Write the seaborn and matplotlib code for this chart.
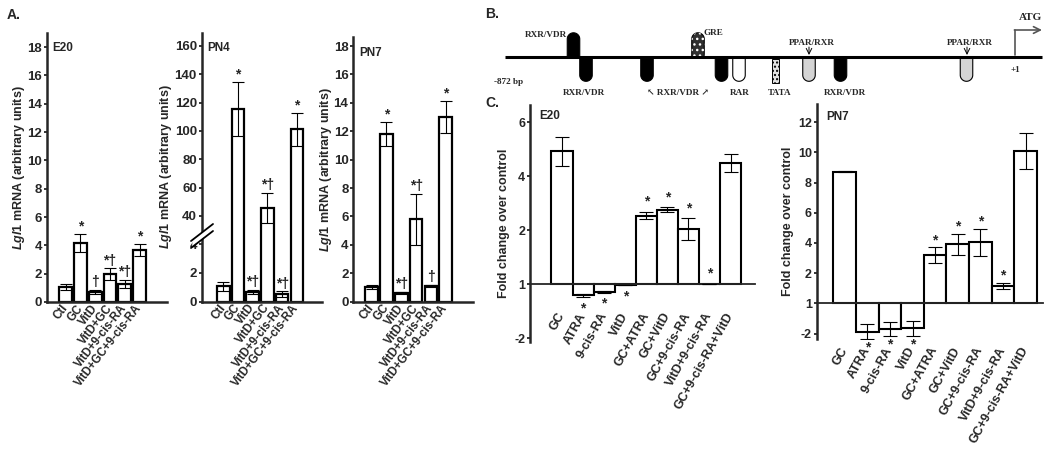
import numpy as np
import matplotlib
matplotlib.use("Agg")
import matplotlib.pyplot as plt
import seaborn as sns
from matplotlib.patches import Polygon, Rectangle
from matplotlib.lines import Line2D

# ---- panel A data: Lgl1 mRNA (arbitrary units)
a_labels = ["Ctl", "GC", "VitD", "VitD+GC", "VitD+9-cis-RA", "VitD+GC+9-cis-RA"]

e20_vals = [1.05, 4.15, 0.73, 1.95, 1.28, 3.68]
e20_err = [0.22, 0.65, 0.15, 0.43, 0.3, 0.4]
e20_marks = ["", "*", "\u2020", "*\u2020", "*\u2020", "*"]

pn4_vals = [1.07, 115.4, 0.67, 45.8, 0.52, 101.0]
pn4_err = [0.3, 19.0, 0.16, 10.7, 0.2, 11.5]
pn4_marks = ["", "*", "*\u2020", "*\u2020", "*\u2020", "*"]

pn7_vals = [1.05, 11.8, 0.6, 5.8, 1.1, 13.0]
pn7_err = [0.15, 0.85, 0.08, 1.8, 0.1, 1.15]
pn7_marks = ["", "*", "*\u2020", "*\u2020", "\u2020", "*"]

# ---- panel C data: fold change over control (0 on the axis is labelled "1")
c_labels = ["GC", "ATRA", "9-cis-RA", "VitD", "GC+ATRA", "GC+VitD",
            "GC+9-cis-RA", "VitD+9-cis-RA", "GC+9-cis-RA+VitD"]

ce20_vals = [4.92, -0.41, -0.27, -0.03, 2.55, 2.76, 2.06, 0.03, 4.5]
ce20_err = [0.55, 0.05, 0.04, 0.0, 0.14, 0.09, 0.4, 0.0, 0.33]
ce20_marks = ["", "*", "*", "*", "*", "*", "*", "*", ""]
ce20_ticks = [-2, 0, 2, 4, 6]
ce20_ticklabels = ["-2", "1", "2", "4", "6"]

cpn7_vals = [8.72, -1.88, -1.7, -1.64, 3.2, 3.9, 4.03, 1.15, 10.07]
cpn7_err = [0.05, 0.5, 0.44, 0.5, 0.5, 0.7, 0.9, 0.2, 1.2]
cpn7_marks = ["", "*", "*", "*", "*", "*", "*", "*", ""]
cpn7_ticks = [-2, 0, 2, 4, 6, 8, 10, 12]
cpn7_ticklabels = ["-2", "1", "2", "4", "6", "8", "10", "12"]

# ---- panel B: promoter sites (x in figure pixels, side, fill)
b_sites = [
    (573.5, "up", "black"), (586, "down", "black"), (647, "down", "black"),
    (698, "up", "gre"), (721.5, "down", "black"), (739, "down", "white"),
    (809, "down", "#d4d4d4"), (840.5, "down", "black"), (966.5, "down", "#d4d4d4"),
]

sns.set_style("ticks")
plt.rcParams["font.family"] = ["Liberation Sans", "DejaVu Sans"]
plt.rcParams["font.weight"] = "bold"
plt.rcParams["axes.labelweight"] = "bold"
plt.rcParams["mathtext.fontset"] = "custom"
plt.rcParams["mathtext.it"] = "Liberation Sans:italic:bold"
plt.rcParams["mathtext.rm"] = "Liberation Sans:bold"

W, H = 1050, 450
fig = plt.figure(figsize=(W / 100, H / 100), dpi=100)


def rect(x0, y0, x1, y1):
    return [x0 / W, 1 - y1 / H, (x1 - x0) / W, (y1 - y0) / H]


def draw_bars(ax, labels, vals, errs, width, lw, cap):
    sns.barplot(x=labels, y=vals, ax=ax, color="white", edgecolor="black",
                linewidth=lw, width=width, saturation=1, errorbar=None, zorder=2)
    ax.errorbar(np.arange(len(vals)), vals, yerr=errs, fmt="none",
                ecolor="black", elinewidth=0.8, capsize=cap, capthick=0.8,
                zorder=3)


def add_marks(ax, vals, errs, marks, size=10, gap=0.5):
    for i, (v, e, m) in enumerate(zip(vals, errs, marks)):
        if not m:
            continue
        if v >= 0:
            ax.annotate(m, (i, v + e), xytext=(0, gap), textcoords="offset points",
                        ha="center", va="bottom", fontsize=size, fontweight="bold")
        else:
            ax.annotate(m, (i, v - e), xytext=(0, -gap - 1), textcoords="offset points",
                        ha="center", va="top", fontsize=size, fontweight="bold")


def style_a(ax, labels=None):
    sns.despine(ax=ax)
    for s in ("left", "bottom"):
        ax.spines[s].set_linewidth(1.8)
    ax.tick_params(axis="y", length=2.5, width=1.3, labelsize=9.5, pad=1)
    ax.tick_params(axis="x", length=0, pad=3)
    ax.set_xlabel("")
    if labels is not None:
        ax.set_xticks(range(len(labels)))
        ax.set_xticklabels(labels, rotation=52, ha="right", va="center",
                           rotation_mode="anchor", fontsize=8.3)


ylab = r"$\mathit{Lgl1}$ mRNA (arbitrary units)"

# ---------------- A: E20
ax = fig.add_axes(rect(46.7, 33, 166.7, 302))
draw_bars(ax, a_labels, e20_vals, e20_err, 0.86, 1.6, 4.3)
add_marks(ax, e20_vals, e20_err, e20_marks)
ax.set_ylim(0, 19)
ax.set_yticks(range(0, 19, 2))
ax.set_xlim(-1.27, 6.82)
style_a(ax, a_labels)
ax.set_ylabel(ylab, fontsize=9, labelpad=0, fontweight="bold")
ax.text(0.05, 0.965, "E20", transform=ax.transAxes, fontsize=8.5, va="top")

# ---------------- A: PN4 (broken axis)
ax_hi = fig.add_axes(rect(201.7, 33, 321.7, 233))
ax_lo = fig.add_axes(rect(201.7, 233, 321.7, 301.5))
for a in (ax_hi, ax_lo):
    draw_bars(a, a_labels, pn4_vals, pn4_err, 0.86, 1.6, 4.3)
    a.set_xlim(-1.47, 6.69)
ax_hi.set_ylim(28, 169)
ax_hi.set_yticks(range(40, 161, 20))
ax_lo.set_ylim(0, 4.8)
ax_lo.set_yticks([0, 2, 4])
style_a(ax_hi)
ax_hi.spines["bottom"].set_visible(False)
ax_hi.set_xticks([])
style_a(ax_lo, a_labels)
for i, (v, e, m) in enumerate(zip(pn4_vals, pn4_err, pn4_marks)):
    tgt = ax_hi if v > 10 else ax_lo
    add_marks(tgt, [0] * i + [v], [0] * i + [e], [""] * i + [m])
ax_hi.set_ylabel("")
ax_lo.set_ylabel("")
fig.text(166 / W, 1 - 167 / H, ylab, rotation=90, fontsize=9, ha="center", va="center")
ax_hi.text(0.045, 0.955, "PN4", transform=ax_hi.transAxes, fontsize=8.5, va="top")
# break marks
for dy in (0, 7):
    fig.add_artist(Line2D([191 / W, 213 / W], [1 - (241 + dy) / H, 1 - (224 + dy) / H],
                          color="black", lw=1.3, zorder=10))
fig.add_artist(Polygon([(193 / W, 1 - 240 / H), (211 / W, 1 - 226 / H),
                        (211 / W, 1 - 231 / H), (193 / W, 1 - 245 / H)],
                       closed=True, color="white", zorder=9))

# ---------------- A: PN7
ax = fig.add_axes(rect(353.3, 36.7, 473.3, 301.7))
draw_bars(ax, a_labels, pn7_vals, pn7_err, 0.86, 1.6, 4.3)
add_marks(ax, pn7_vals, pn7_err, pn7_marks)
ax.set_ylim(0, 18.66)
ax.set_yticks(range(0, 19, 2))
ax.set_xlim(-1.24, 6.86)
style_a(ax, a_labels)
ax.set_ylabel(ylab, fontsize=9, labelpad=0, fontweight="bold")
ax.text(0.05, 0.96, "PN7", transform=ax.transAxes, fontsize=8.5, va="top")

# ---------------- B: promoter diagram
axb = fig.add_axes(rect(480, 0, 1050, 100))
axb.set_xlim(480, 1050)
axb.set_ylim(100, 0)
axb.axis("off")
line_y = 57.3


def site_shape(cx, down, depth=24, w=12.5):
    r = w / 2
    s = 1 if down else -1
    end_y = line_y + s * (depth - r)
    t = np.linspace(0, np.pi, 40)
    pts = [(cx + r, line_y)] + list(zip(cx + r * np.cos(t), end_y + s * r * np.sin(t))) + [(cx - r, line_y)]
    return pts


for cx, side, fill in b_sites:
    pts = site_shape(cx, side == "down", depth=24.5 if side == "up" else 24)
    if fill == "gre":
        axb.add_patch(Polygon(pts, closed=True, facecolor="#303030", edgecolor="black", lw=0.8, zorder=2))
        axb.add_patch(Polygon(pts, closed=True, facecolor="none", edgecolor="white", lw=0, hatch="...", zorder=2))
    else:
        axb.add_patch(Polygon(pts, closed=True, facecolor=fill, edgecolor="black", lw=0.8, zorder=2))
axb.add_patch(Rectangle((772, line_y + 2), 6.5, 24, facecolor="#e2e2e2", edgecolor="black",
                        lw=0.7, hatch="....", zorder=2))
axb.plot([505, 1042], [line_y, line_y], color="black", lw=2.2, zorder=3, solid_capstyle="butt")

serif = dict(family=["Liberation Serif", "DejaVu Serif"], fontweight="bold", fontsize=6.6)
axb.text(567, 35, "RXR/VDR", ha="right", va="center", **serif)
axb.text(704, 33, "GRE", ha="left", va="center", **serif)
for cx in (812, 970):
    axb.text(cx, 43, "PPAR/RXR", ha="center", va="center", **serif)
    axb.annotate("", xy=(cx - 3, 55), xytext=(cx - 3, 47),
                 arrowprops=dict(arrowstyle="->", lw=0.7, color="black", shrinkA=0, shrinkB=0))
axb.text(494, 81.7, "-872 bp", ha="left", va="center", **serif)
axb.text(1011, 70, "+1", ha="left", va="center", **serif)
axb.text(584, 93, "RXR/VDR", ha="center", va="center", **serif)
axb.text(678, 93, "\u2196 RXR/VDR \u2197", ha="center", va="center", **serif)
axb.text(740, 93, "RAR", ha="center", va="center", **serif)
axb.text(780, 93, "TATA", ha="center", va="center", **serif)
axb.text(845, 93, "RXR/VDR", ha="center", va="center", **serif)
axb.text(1031, 18, "ATG", ha="center", va="center",
         family=["Liberation Serif", "DejaVu Serif"], fontweight="bold", fontsize=8)
axb.plot([1015, 1015], [line_y - 2, 30], color="#555555", lw=1.2)
axb.annotate("", xy=(1042, 30), xytext=(1014.4, 30),
             arrowprops=dict(arrowstyle="->", lw=1.2, color="#555555", shrinkA=0, shrinkB=0,
                             mutation_scale=12))


# ---------------- C panels
def style_c(ax, ticks, ticklabels, pad):
    ax.spines["top"].set_visible(False)
    ax.spines["right"].set_visible(False)
    ax.spines["left"].set_linewidth(1.8)
    ax.spines["bottom"].set_position(("data", 0))
    ax.spines["bottom"].set_linewidth(1.3)
    ax.set_yticks(ticks)
    ax.set_yticklabels(ticklabels)
    ax.tick_params(axis="y", length=2.5, width=1.3, labelsize=9, pad=1)
    ax.tick_params(axis="x", length=0, pad=pad)
    ax.set_xticks(range(len(c_labels)))
    ax.set_xticklabels(c_labels, rotation=61, ha="right", va="center",
                       rotation_mode="anchor", fontsize=9)
    ax.set_xlabel("")
    ax.set_ylabel("Fold change over control", fontsize=9, labelpad=3, fontweight="bold")


ax = fig.add_axes(rect(530, 105, 755, 341.7))
draw_bars(ax, c_labels, ce20_vals, ce20_err, 1.0, 1.5, 4.7)
add_marks(ax, ce20_vals, ce20_err, ce20_marks, gap=2)
ax.set_ylim(-2.12, 6.64)
ax.set_xlim(-1.52, 9.16)
style_c(ax, ce20_ticks, ce20_ticklabels, 21)
ax.text(0.04, 0.955, "E20", transform=ax.transAxes, fontsize=8.5, va="center")

ax = fig.add_axes(rect(816.7, 104, 1043, 339))
draw_bars(ax, c_labels, cpn7_vals, cpn7_err, 1.0, 1.5, 4.7)
add_marks(ax, cpn7_vals, cpn7_err, cpn7_marks, gap=0)
ax.set_ylim(-2.36, 13.2)
ax.set_xlim(-1.24, 8.77)
style_c(ax, cpn7_ticks, cpn7_ticklabels, 32)
ax.text(0.04, 0.943, "PN7", transform=ax.transAxes, fontsize=8.5, va="center")

# panel letters
fig.text(7 / W, 1 - 15 / H, "A.", fontsize=10, va="center")
fig.text(485 / W, 1 - 14 / H, "B.", fontsize=10, va="center")
fig.text(485 / W, 1 - 103 / H, "C.", fontsize=10, va="center")

fig.savefig("out.png", dpi=100)
